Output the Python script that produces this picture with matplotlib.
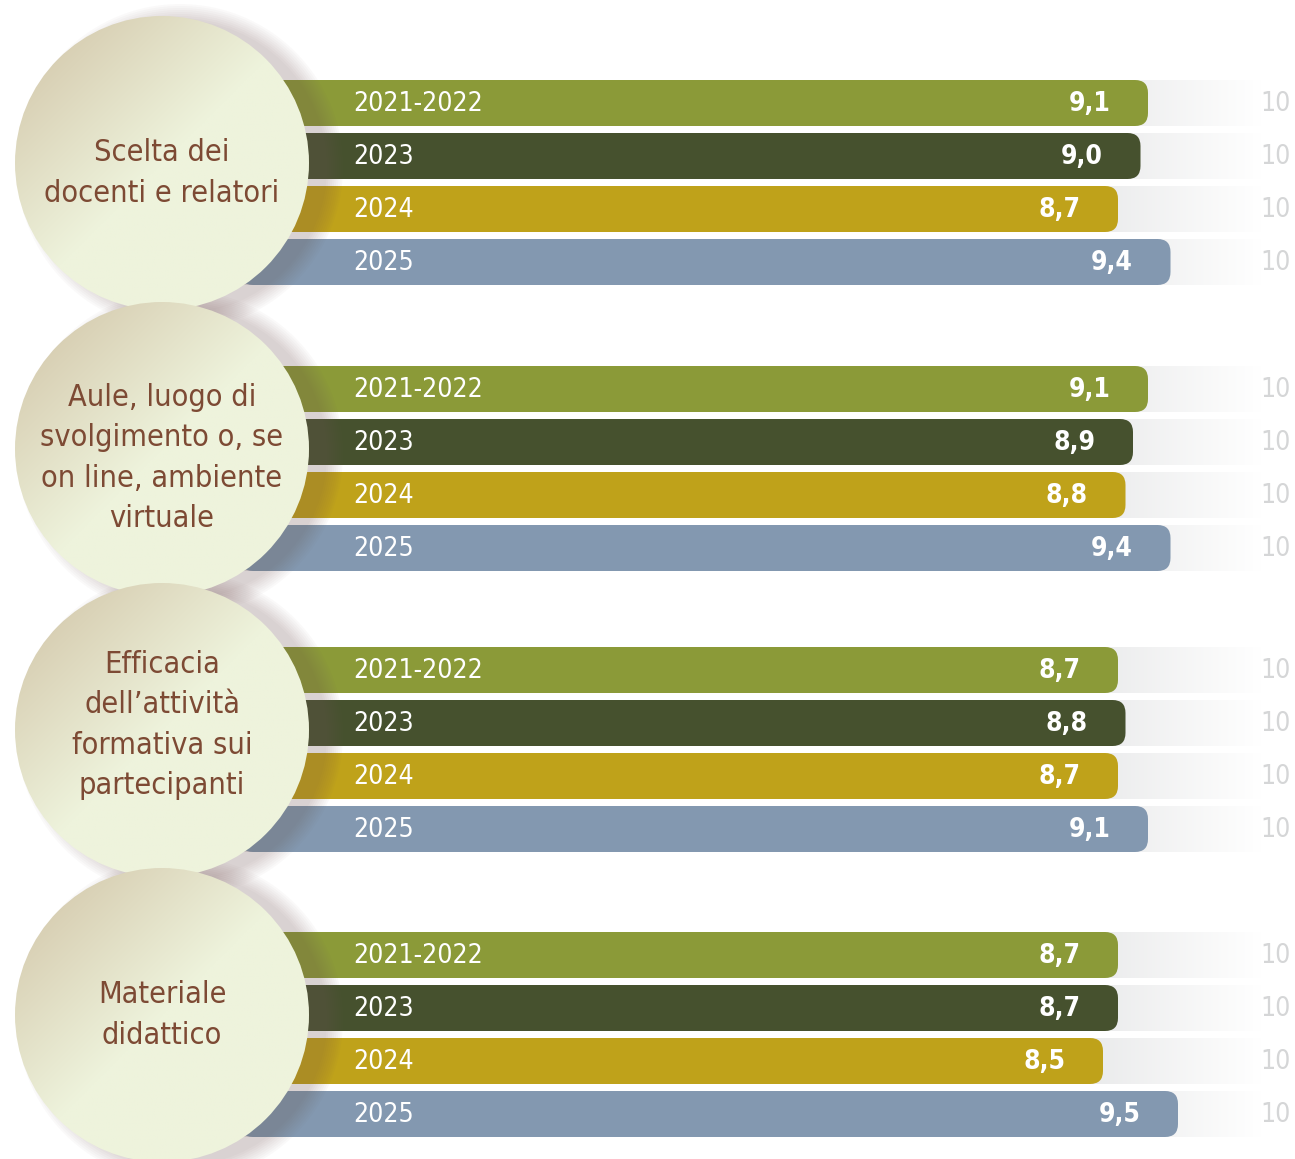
import matplotlib.pyplot as plt
import numpy as np
from matplotlib.colors import to_rgb
from matplotlib.patches import Ellipse, FancyBboxPatch

topics = ["Scelta dei\ndocenti e relatori",
          "Aule, luogo di\nsvolgimento o, se\non line, ambiente\nvirtuale",
          "Efficacia\ndell\u2019attivit\u00e0\nformativa sui\npartecipanti",
          "Materiale\ndidattico"]
years = ["2021-2022", "2023", "2024", "2025"]
score_2122 = [9.1, 9.1, 8.7, 8.7]
score_2023 = [9.0, 8.9, 8.8, 8.7]
score_2024 = [8.7, 8.8, 8.7, 8.5]
score_2025 = [9.4, 9.4, 9.1, 9.5]
max_score = 10

colors = ["#8b9a38", "#46512e", "#bfa21a", "#8398b0"]
brown = "#7d4a34"
FONT = dict(family=["DejaVu Sans"], fontstretch='condensed')

# layout (pixels), x axis is in score units
W, H = 1295, 1159
PX = 75.0          # pixels per score unit
X0 = 465.5         # pixel where score 0 sits
group_top = [103, 389, 670, 955]
text_dy = [10, 9, -5, 0]
row_step = 53
bar_h = 46
R = 147            # circle radius px
circ_x = 162


def sx(px):
    return (px - X0) / PX


fig = plt.figure(figsize=(W / 100, H / 100), dpi=100)
ax = fig.add_axes([0, 0, 1, 1])
ax.set_xlim(sx(0), sx(W))
ax.set_ylim(H, 0)
ax.axis('off')

series = [score_2122, score_2023, score_2024, score_2025]
bar_start = sx(240)
track_end = sx(1262)

grad = np.linspace(0, 1, 256)
g0 = np.array(to_rgb("#dfe0e1"))
track_img = (g0[None, :] * (1 - grad[:, None]) + grad[:, None])[None, :, :]

for g in range(len(topics)):
    for r, yr in enumerate(years):
        yc = group_top[g] + r * row_step
        v = series[r][g]
        # grey track fading to white
        ax.imshow(track_img, extent=[sx(1000), track_end, yc + bar_h / 2, yc - bar_h / 2],
                  aspect='auto', zorder=1, interpolation='bilinear')
        ax.fill_between([bar_start, sx(1000)], yc - bar_h / 2, yc + bar_h / 2,
                        color="#dfe0e1", lw=0, zorder=1)
        bar = FancyBboxPatch((bar_start, yc - bar_h / 2), v - bar_start, bar_h,
                             boxstyle="round,pad=0,rounding_size=%f" % (13 / PX),
                             mutation_aspect=PX, fc=colors[r], ec='none', zorder=2)
        ax.add_patch(bar)
        ax.text(sx(353), yc + 1, yr, color='white', fontsize=19,
                ha='left', va='center', zorder=3, **FONT)
        ax.text(v - 0.5, yc + 1, ("%.1f" % v).replace('.', ','), color='white',
                fontsize=19, fontweight='bold', ha='right', va='center', zorder=3, **FONT)
        ax.text(sx(1276), yc + 1, str(max_score), color='#d5d6d7', fontsize=19,
                ha='center', va='center', zorder=3, **FONT)

# circle gradient image
n = 200
xx, yy = np.meshgrid(np.linspace(0, 1, n), np.linspace(0, 1, n))
t = np.clip(((xx + yy) / 2 - 0.1) / 0.4, 0, 1)
tan = np.array(to_rgb("#d6ccb0"))
cream = np.array(to_rgb("#eef3dc"))
circ_img = tan * (1 - t[..., None]) + cream * t[..., None]

for g, label in enumerate(topics):
    cy = group_top[g] + 60
    cx = sx(circ_x)
    # soft shadow, mostly to the right
    for d in range(0, 18, 2):
        ax.add_patch(Ellipse((sx(circ_x + 18), cy + 4), 2 * (R + d) / PX, 2 * (R + d),
                             fc='#7a5a5a', ec='none', alpha=0.03, zorder=4))
    circ = Ellipse((cx, cy), 2 * R / PX, 2 * R, fc='none', ec='none', zorder=5)
    ax.add_patch(circ)
    im = ax.imshow(circ_img, extent=[sx(circ_x - R), sx(circ_x + R), cy + R, cy - R],
                   aspect='auto', zorder=5, interpolation='bilinear')
    im.set_clip_path(circ)
    ax.text(cx, cy + text_dy[g], label, color=brown, fontsize=22,
            ha='center', va='center', linespacing=1.5, zorder=6, **FONT)

ax.set_xlim(sx(0), sx(W))
ax.set_ylim(H, 0)
fig.savefig('out.png', dpi=100)
